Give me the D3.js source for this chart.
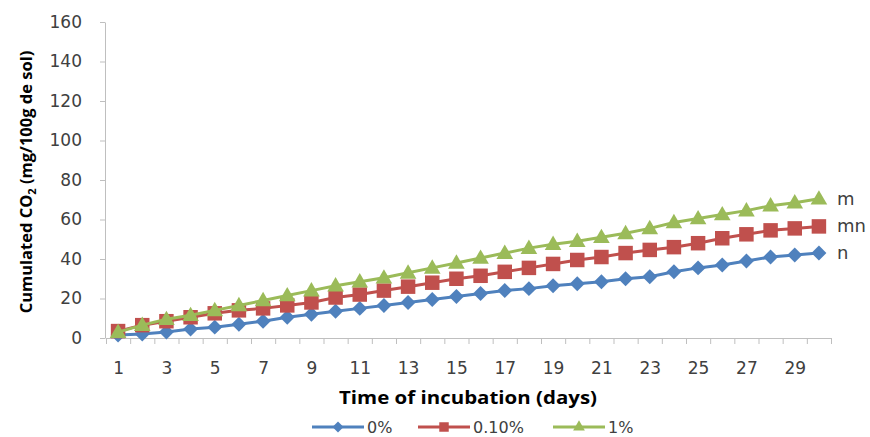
<!DOCTYPE html>
<html>
<head>
<meta charset="utf-8">
<script src="https://cdn.jsdelivr.net/npm/d3@7"></script>
<style>
  html, body { margin: 0; padding: 0; background: #fff; }
  svg { display: block; }
</style>
</head>
<body>
<svg id="chart" width="870" height="437"></svg>
<script>
const days = d3.range(1, 31);
const xTickLabels = [1, 3, 5, 7, 9, 11, 13, 15, 17, 19, 21, 23, 25, 27, 29];
const yTicks = [0, 20, 40, 60, 80, 100, 120, 140, 160];
const seriesNames = ["0%", "0.10%", "1%"];
const letters = ["n", "mn", "m"];
const s0 = [1.5, 2, 3, 4.5, 5.5, 7, 8.5, 10.5, 12, 13.5, 15, 16.5, 18, 19.5, 21, 22.5, 24, 25, 26.5, 27.5, 28.5, 30, 31, 33.5, 35.5, 37, 39, 41, 42, 43];
const s1 = [3.5, 6.5, 8.5, 10.5, 12.5, 14, 15, 16.5, 18, 20.5, 22, 24, 26, 28, 30, 31.5, 33.5, 35.5, 37.5, 39.5, 41, 43, 44.6, 46, 48, 50.5, 52.5, 54.5, 55.5, 56.5];
const s2 = [3, 6.5, 9.5, 11.5, 14, 16.5, 19, 21.5, 24, 26.5, 28.5, 30.5, 33, 35.5, 38, 40.5, 43, 45.5, 47.5, 49, 51, 53, 55.5, 58.5, 60.5, 62.5, 64.5, 67, 68.5, 70.5];
const colors = ["#4F81BD", "#C0504D", "#9BBB59"];

const diamondSq = {
  draw(ctx, size) {
    const r = Math.sqrt(size / 2);
    ctx.moveTo(0, -r); ctx.lineTo(r, 0); ctx.lineTo(0, r); ctx.lineTo(-r, 0); ctx.closePath();
  }
};
const shapes = [diamondSq, d3.symbolSquare, d3.symbolTriangle];
const sizes = [112, 210, 120];
const legendSizes = [60, 90, 60];
const allSeries = [s0, s1, s2];

const svg = d3.select("#chart");
const font = "'DejaVu Sans', 'Liberation Sans', sans-serif";
const titleFont = "'Open Sans', 'Liberation Sans', sans-serif";
const textGray = "#404040";

const x = d3.scaleLinear().domain([0.5, 30.5]).range([106, 831]);
const y = d3.scaleLinear().domain([0, 160]).range([338, 22]);

// Y axis
const yAxis = svg.append("g").attr("transform", "translate(105,0)")
  .call(d3.axisLeft(y).tickValues(yTicks).tickSize(5).tickPadding(18).tickSizeOuter(0));
yAxis.select(".domain").attr("stroke", "#BFBFBF");
yAxis.selectAll(".tick line").attr("stroke", "#BFBFBF");
yAxis.selectAll("text").attr("font-family", font).attr("font-size", 17).attr("fill", textGray);

// X axis boundary ticks
const xAxisTicks = svg.append("g").attr("transform", "translate(0,338)")
  .call(d3.axisBottom(x).tickValues(d3.range(0.5, 31, 1)).tickSize(6).tickFormat("").tickSizeOuter(0));
xAxisTicks.select(".domain").attr("stroke", "#BFBFBF");
xAxisTicks.selectAll(".tick line").attr("stroke", "#BFBFBF");

// X axis labels
const xAxisLabels = svg.append("g").attr("transform", "translate(0,338)")
  .call(d3.axisBottom(x).tickValues(xTickLabels).tickSize(0).tickPadding(24).tickFormat(d3.format("d")));
xAxisLabels.select(".domain").remove();
xAxisLabels.selectAll("text").attr("font-family", font).attr("font-size", 17).attr("fill", textGray);

// Axis titles
svg.append("text")
  .attr("x", 468).attr("y", 404)
  .attr("text-anchor", "middle")
  .attr("font-family", titleFont).attr("font-size", 17).attr("font-weight", "bold").attr("fill", "#000")
  .attr("textLength", 258).attr("lengthAdjust", "spacingAndGlyphs")
  .text("Time of incubation (days)");

const yt = svg.append("text")
  .attr("transform", "translate(32,182) rotate(-90)")
  .attr("text-anchor", "middle")
  .attr("font-family", titleFont).attr("font-size", 16.5).attr("font-weight", "bold").attr("fill", "#000");
yt.append("tspan").text("Cumulated CO");
yt.append("tspan").attr("font-size", 11).attr("dy", 4).text("2");
yt.append("tspan").attr("dy", -4).text(" (mg/100g de sol)");

// Series
const line = d3.line().x((d, i) => x(days[i])).y(d => y(d));
allSeries.forEach((s, k) => {
  const g = svg.append("g");
  g.append("path").datum(s)
    .attr("d", line).attr("fill", "none").attr("stroke", colors[k]).attr("stroke-width", 3);
  g.selectAll("path.m").data(s).join("path")
    .attr("class", "m")
    .attr("d", d3.symbol().type(shapes[k]).size(sizes[k]))
    .attr("transform", (d, i) => `translate(${x(days[i])},${y(d) + (k === 2 ? 1 : 0)})`)
    .attr("fill", colors[k]);
  svg.append("text")
    .attr("x", 837).attr("y", y(s[s.length - 1]) + 6)
    .attr("font-family", font).attr("font-size", 18).attr("fill", textGray)
    .text(letters[k]);
});

// Legend
const legendX = [312, 418, 553];
seriesNames.forEach((name, k) => {
  const g = svg.append("g").attr("transform", `translate(${legendX[k]},427)`);
  g.append("line").attr("x1", 0).attr("x2", 52).attr("y1", 0).attr("y2", 0)
    .attr("stroke", colors[k]).attr("stroke-width", 3);
  g.append("path").attr("d", d3.symbol().type(shapes[k]).size(legendSizes[k])).attr("transform", "translate(26,0)")
    .attr("fill", colors[k]);
  g.append("text").attr("x", 55).attr("y", 5.5)
    .attr("font-family", font).attr("font-size", 16).attr("fill", textGray)
    .text(name);
});
</script>
</body>
</html>
